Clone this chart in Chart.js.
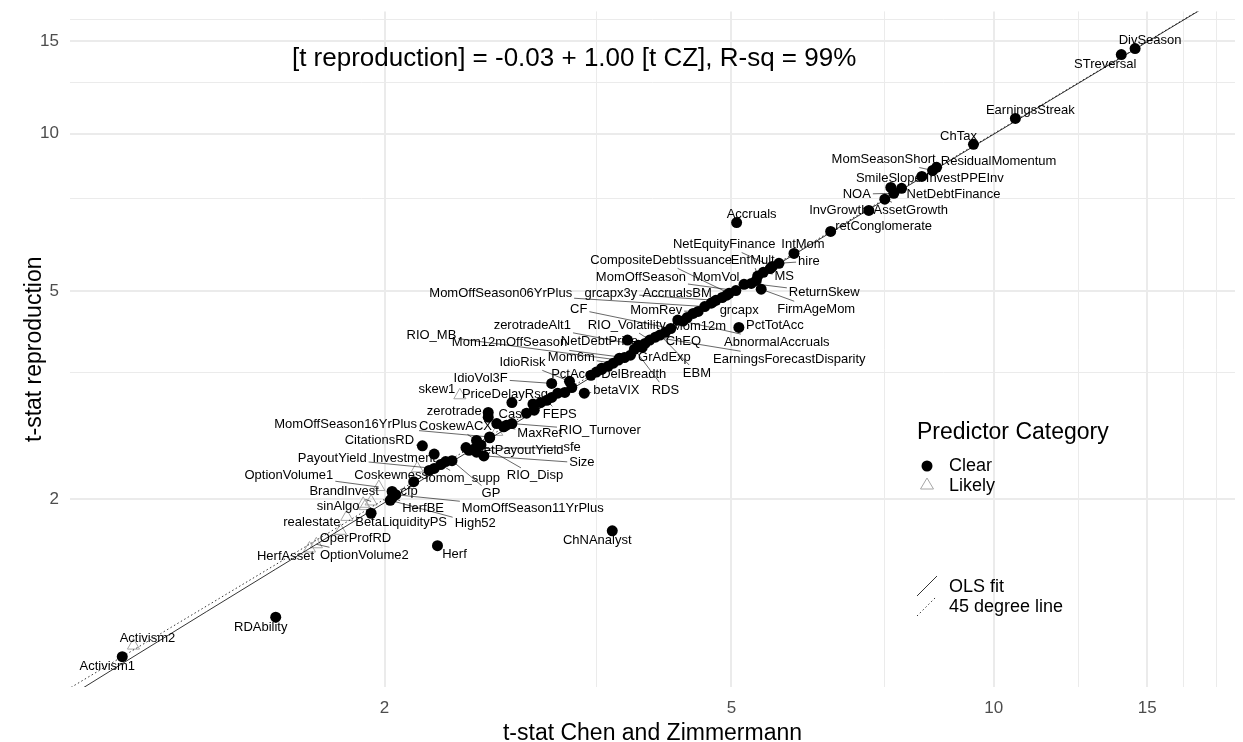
<!DOCTYPE html>
<html>
<head>
<meta charset="utf-8">
<title>t-stat reproduction vs Chen and Zimmermann</title>
<script src="https://cdn.jsdelivr.net/npm/chart.js@4.4.1/dist/chart.umd.min.js"></script>
<style>
  html, body { margin: 0; padding: 0; background: #fff; }
  #wrap { width: 1243px; height: 742px; }
</style>
</head>
<body>
<div id="wrap"><canvas id="chart" width="1243" height="742"></canvas></div>
<script>
// ----- Data -----
// null name = point whose label ggrepel dropped
const predictors = [
  "DivSeason", "STreversal", "EarningsStreak", "ChTax", "ResidualMomentum",
  "MomSeasonShort", "InvestPPEInv", "SmileSlope", "NetDebtFinance", "NOA",
  "AssetGrowth", "InvGrowth", "retConglomerate", "Accruals", "IntMom",
  "hire", "NetEquityFinance", "MS", "EntMult", "ReturnSkew",
  "MomVol", "FirmAgeMom", "MomOffSeason", "CompositeDebtIssuance", "AccrualsBM",
  "grcapx3y", "grcapx", "MomOffSeason06YrPlus", "MomRev", "PctTotAcc",
  "Mom12m", "AbnormalAccruals", "CF", "ChEQ", "EBM",
  "EarningsForecastDisparity", "RIO_Volatility", "NetDebtPrice", "zerotradeAlt1", "RDS",
  "GrAdExp", "Mom12mOffSeason", "RIO_MB", "Mom6m", "DelBreadth",
  "PctAcc", "IdioRisk", "IdioVol3F", "betaVIX", "FEPS",
  "skew1", "PriceDelayRsq", "zerotrade", "Cash", "RIO_Turnover",
  "MaxRet", "MomOffSeason16YrPlus", "CoskewACX", "RIO_Disp", "sfe",
  "NetPayoutYield", "Size", "CitationsRD", "Investment", "GP",
  "iomom_supp", "PayoutYield", "Coskewness", "OptionVolume1", "cfp",
  "HerfBE", "MomOffSeason11YrPlus", "High52", "BrandInvest", "sinAlgo",
  "BetaLiquidityPS", "realestate", "OperProfRD", "OptionVolume2", "HerfAsset",
  "Herf", "ChNAnalyst", "RDAbility", "Activism2", "Activism1",
  null, null, null, null, null, null, null, null, null, null,
  null, null, null, null, null, null, null, null, null, null,
  null, null, null, null, null, null, null, null, null, null
];

const tCZ = [
  14.53, 14.01, 10.59, 9.48, 8.60,
  8.51, 8.27, 7.62, 7.84, 7.68,
  7.50, 7.19, 6.50, 5.07, 5.90,
  5.67, 5.57, 5.44, 5.36, 5.27,
  5.17, 5.41, 5.06, 4.97, 4.88,
  4.80, 4.74, 4.66, 4.58, 5.10,
  4.40, 4.34, 4.26, 4.20, 4.14,
  4.09, 4.03, 3.80, 3.91, 3.87,
  3.83, 3.77, 3.71, 3.66, 3.55,
  3.50, 3.26, 3.11, 3.39, 3.07,
  2.44, 2.80, 2.63, 2.69, 2.80,
  2.74, 2.64, 2.55, 2.58, 2.54,
  2.50, 2.60, 2.21, 2.28, 2.39,
  2.32, 2.28, 2.18, 1.97, 2.04,
  2.04, 2.06, 2.03, 1.93, 1.89,
  1.93, 1.81, 1.78, 1.67, 1.64,
  2.30, 3.65, 1.50, 1.03, 1.00,
  5.54, 4.94, 4.76, 4.52, 4.45, 3.98, 3.95, 3.72, 3.61, 3.45,
  3.28, 3.22, 3.16, 3.11, 3.02, 2.96, 2.97, 2.91, 2.63, 2.76,
  2.64, 2.55, 2.48, 2.35, 2.25, 3.55, 5.34, 2.16, 2.69, 1.90
];

const tRepro = [
  14.54, 14.16, 10.69, 9.54, 8.62,
  8.50, 8.28, 7.89, 7.86, 7.69,
  7.49, 7.13, 6.50, 6.76, 5.90,
  5.65, 5.57, 5.43, 5.34, 5.17,
  5.15, 5.04, 5.01, 4.95, 4.86,
  4.80, 4.74, 4.67, 4.57, 4.26,
  4.38, 4.40, 4.24, 4.17, 4.12,
  4.08, 4.03, 4.03, 3.94, 3.87,
  3.77, 3.73, 3.69, 3.64, 3.54,
  3.50, 3.36, 3.33, 3.19, 3.09,
  3.16, 3.06, 2.93, 2.79, 2.79,
  2.75, 2.63, 2.59, 2.54, 2.50,
  2.48, 2.42, 2.53, 2.44, 2.37,
  2.33, 2.29, 2.29, 2.11, 2.07,
  2.01, 2.04, 1.99, 1.98, 1.96,
  1.88, 1.85, 1.74, 1.64, 1.61,
  1.63, 1.74, 1.19, 1.05, 1.00,
  5.52, 4.91, 4.76, 4.53, 4.45, 3.97, 3.90, 3.72, 3.59, 3.45,
  3.27, 3.20, 3.19, 3.13, 3.06, 3.04, 2.96, 2.92, 2.87, 2.77,
  2.62, 2.46, 2.51, 2.36, 2.27, 3.56, 5.24, 2.16, 2.69, 1.94
];

// "C" = Clear, "L" = Likely
const category = [
  "C", "C", "C", "C", "C",  "C", "C", "C", "C", "C",
  "C", "C", "C", "C", "C",  "C", "C", "C", "C", "C",
  "C", "C", "C", "C", "C",  "C", "C", "C", "C", "C",
  "C", "C", "C", "C", "C",  "C", "C", "C", "C", "C",
  "C", "C", "C", "C", "C",  "C", "C", "C", "C", "C",
  "L", "C", "C", "C", "C",  "C", "C", "C", "C", "C",
  "C", "C", "C", "C", "C",  "C", "C", "L", "L", "C",
  "C", "C", "C", "L", "L",  "C", "L", "L", "L", "L",
  "C", "C", "C", "L", "C",
  "C", "C", "C", "C", "C", "C", "C", "C", "C", "C",
  "C", "C", "C", "C", "C", "C", "C", "C", "C", "C",
  "C", "C", "C", "C", "C", "C", "C", "C", "L", "L"
];

const categoryNames = { C: "Clear", L: "Likely" };

// where ggrepel put each label: offset of the label centre from its point, in px
const labelDx = [
  15, -16, 15, -15, 62,   -49, 43, -2, 52, -37,
  26, -30, 53, 15, 9,     30, -48, 21, -5, 73,
  -28, 55, -95, -68, -45, -105, 28, -204, -42, 36,
  16, 99, -92, 18, 37,    134, -23, -28, -106, 31,
  34, -115, -187, -42, 32, -25, -47, -71, 32, 13,
  -23, -7, -34, 17, 88,   36, -144, -21, 54, 97,
  50, 98, -43, -30, 39,   22, -102, -26, -90, 17,
  31, 137, 85, -27, -25,  30, -35, 15, 48, -24,
  17, -15, -15, 14, -15
];
const labelDy = [
  -8, 10, -8, -8, -6,     -11, 2, -9, 6, 1,
  11, 0, -5, -8, -9,      -2, -22, 4, -16, 9,
  -7, 20, -13, -33, -4,   -7, 7, -13, -1, -2,
  5, 22, -19, 9, 38,      22, -15, 1, -20, 41,
  2, -15, -25, -6, 5,     2, -19, -5, -3, 14,
  -6, -8, -1, -9, 7,      7, -13, -14, 31, -1,
  0, 7, -5, 4, 33,        14, -10, 7, -12, 0,
  10, 14, 23, -10, 3,     9, 6, 8, 11, 8,
  9, 10, 10, -7, 10
];

// axes (log10 scales), breaks as in the picture
const xMin = 0.871, xMax = 18.92;
const yMin = 0.875, yMax = 17.12;
const xTicks = [2, 3.5, 5, 7.5, 10, 12.5, 15, 16.5, 18];
const yTicks = [2, 3.5, 5, 7.5, 10, 12.5, 15, 16.5];
const majorTicks = [2, 5, 10, 15];

// fitted line and 45 degree line
const olsIntercept = -0.03;
const olsSlope = 1.00;
const lineX = [0.85, 1, 1.25, 1.5, 2, 3, 5, 8, 12, 19];
const fitNote = "[t reproduction] = -0.03 + 1.00 [t CZ], R-sq = 99%";
const notePos = { x: 3.3, y: 13.92 };

const FONT = '"Liberation Sans", Arial, Helvetica, sans-serif';

// ----- Build datasets -----
function pointsFor(cat) {
  const out = [];
  tCZ.forEach((v, i) => {
    if (category[i] === cat) out.push({ x: v, y: tRepro[i] });
  });
  return out;
}

const olsLine = lineX.map(x => ({ x: x, y: olsIntercept + olsSlope * x }));
const diagLine = [{ x: lineX[0], y: lineX[0] }, { x: lineX[lineX.length - 1], y: lineX[lineX.length - 1] }];

// ----- Labels with leader segments (ggrepel look) -----
const repelLabels = {
  id: "repelLabels",
  afterDatasetsDraw(chart) {
    const { ctx, scales: { x, y } } = chart;
    ctx.save();
    ctx.font = "13px " + FONT;
    ctx.textAlign = "center";
    ctx.textBaseline = "middle";
    ctx.fillStyle = "#000";
    ctx.strokeStyle = "#000";
    ctx.lineWidth = 0.6;
    predictors.forEach((name, i) => {
      if (!name) return;
      const px = x.getPixelForValue(tCZ[i]);
      const py = y.getPixelForValue(tRepro[i]);
      const lx = px + labelDx[i];
      const ly = py + labelDy[i];
      const hw = ctx.measureText(name).width / 2 + 2;
      const hh = 8;
      const dx = px - lx, dy = py - ly;
      const t = Math.min(dx ? hw / Math.abs(dx) : Infinity, dy ? hh / Math.abs(dy) : Infinity);
      if (t < 1) {
        const ex = lx + dx * t, ey = ly + dy * t;
        if (Math.hypot(ex - px, ey - py) > 5) {
          ctx.beginPath();
          ctx.moveTo(px, py);
          ctx.lineTo(ex, ey);
          ctx.stroke();
        }
      }
      ctx.fillText(name, lx, ly);
    });
    ctx.restore();
  }
};

// ----- Fit note + legend -----
const extras = {
  id: "extras",
  afterDraw(chart) {
    const { ctx, scales: { x, y } } = chart;
    ctx.save();
    ctx.fillStyle = "#000";
    ctx.textBaseline = "middle";

    ctx.font = "26px " + FONT;
    ctx.textAlign = "center";
    ctx.fillText(fitNote, x.getPixelForValue(notePos.x), y.getPixelForValue(notePos.y));

    ctx.textAlign = "left";
    ctx.font = "23px " + FONT;
    ctx.fillText("Predictor Category", 917, 433);

    ctx.beginPath();
    ctx.arc(927, 466, 5.5, 0, Math.PI * 2);
    ctx.fill();
    ctx.strokeStyle = "#A6A6A6";
    ctx.lineWidth = 1;
    ctx.beginPath();
    ctx.moveTo(927, 478);
    ctx.lineTo(933.5, 489);
    ctx.lineTo(920.5, 489);
    ctx.closePath();
    ctx.stroke();

    ctx.font = "18px " + FONT;
    ctx.fillText(categoryNames.C, 949, 466);
    ctx.fillText(categoryNames.L, 949, 486);

    ctx.strokeStyle = "#000";
    ctx.lineWidth = 0.8;
    ctx.beginPath();
    ctx.moveTo(917, 596);
    ctx.lineTo(937, 576);
    ctx.stroke();
    ctx.setLineDash([1.5, 2.5]);
    ctx.beginPath();
    ctx.moveTo(917, 616);
    ctx.lineTo(936, 597);
    ctx.stroke();
    ctx.setLineDash([]);
    ctx.fillText("OLS fit", 949, 587);
    ctx.fillText("45 degree line", 949, 607);
    ctx.restore();
  }
};

const gridWidth = c => (c.tick && majorTicks.includes(c.tick.value) ? 2 : 1);

new Chart(document.getElementById("chart"), {
  type: "scatter",
  data: {
    datasets: [
      {
        type: "line",
        label: "OLS fit",
        data: olsLine,
        borderColor: "#000",
        borderWidth: 0.8,
        pointRadius: 0,
        fill: false,
        tension: 0
      },
      {
        type: "line",
        label: "45 degree line",
        data: diagLine,
        borderColor: "#000",
        borderWidth: 0.8,
        borderDash: [1.5, 2.5],
        pointRadius: 0,
        fill: false
      },
      {
        label: categoryNames.C,
        data: pointsFor("C"),
        pointStyle: "circle",
        pointRadius: 5.5,
        backgroundColor: "#000",
        borderWidth: 0
      },
      {
        label: categoryNames.L,
        data: pointsFor("L"),
        pointStyle: "triangle",
        pointRadius: 7,
        backgroundColor: "rgba(0,0,0,0)",
        borderColor: "#A6A6A6",
        borderWidth: 1
      }
    ]
  },
  options: {
    responsive: false,
    animation: false,
    devicePixelRatio: 1,
    layout: { padding: { top: 11, right: 3, left: 0, bottom: 0 } },
    plugins: {
      legend: { display: false },
      tooltip: { enabled: false }
    },
    scales: {
      x: {
        type: "logarithmic",
        min: xMin,
        max: xMax,
        afterBuildTicks: s => { s.ticks = xTicks.map(v => ({ value: v })); },
        afterFit: s => { s.height = 55; },
        ticks: {
          autoSkip: false,
          maxRotation: 0,
          padding: 11,
          color: "#4D4D4D",
          font: { size: 17, family: FONT },
          callback: v => (majorTicks.includes(v) ? String(v) : "")
        },
        grid: { color: "#EBEBEB", lineWidth: gridWidth, drawTicks: false },
        border: { display: false },
        title: {
          display: true,
          text: "t-stat Chen and Zimmermann",
          color: "#000",
          font: { size: 23, family: FONT, lineHeight: 0.75 },
          padding: 0
        }
      },
      y: {
        type: "logarithmic",
        min: yMin,
        max: yMax,
        afterBuildTicks: s => { s.ticks = yTicks.map(v => ({ value: v })); },
        afterFit: s => { s.width = 70; },
        ticks: {
          autoSkip: false,
          padding: 11,
          color: "#4D4D4D",
          // tiny line height so the tick labels do not push the plot top down
          font: { size: 17, family: FONT, lineHeight: 0.05 },
          callback: v => (majorTicks.includes(v) ? String(v) : "")
        },
        grid: { color: "#EBEBEB", lineWidth: gridWidth, drawTicks: false },
        border: { display: false },
        title: {
          display: true,
          text: "t-stat reproduction",
          color: "#000",
          font: { size: 23, family: FONT, lineHeight: 1.1 },
          padding: { top: 22, bottom: 0 }
        }
      }
    }
  },
  plugins: [repelLabels, extras]
});
</script>
</body>
</html>
